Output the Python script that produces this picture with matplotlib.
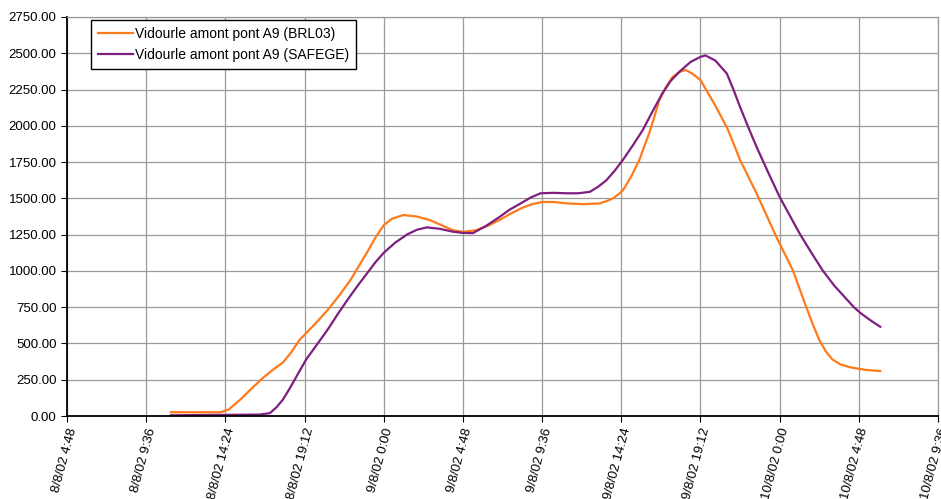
import pandas as pd
import matplotlib
matplotlib.use("Agg")
import matplotlib.pyplot as plt

plt.rcParams['font.family'] = ['Liberation Sans', 'DejaVu Sans']

# heures depuis le 8/8/02 4:48
brl_h = [6.3, 9.3, 9.8, 10.5, 11.2, 11.9, 12.5, 13.1, 13.6, 14.1, 15.0, 15.8,
         16.5, 17.2, 17.7, 18.2, 18.7, 19.2, 19.7, 20.4, 21.2, 22.0, 22.7, 23.4,
         24.0, 24.8, 25.5, 26.2, 26.9, 27.6, 28.2, 28.8, 29.5, 30.3, 31.3, 32.3,
         32.8, 33.1, 33.4, 33.7, 34.2, 34.7, 35.0, 35.3, 35.6, 35.9, 36.3, 36.7,
         37.1, 37.5, 37.9, 38.4, 39.2, 40.0, 40.4, 40.8, 41.3, 41.8, 42.4, 43.0,
         43.5, 44.0, 44.4, 44.8, 45.2, 45.6, 46.0, 46.4, 46.9, 47.5, 48.4, 49.3]
brl_q = [26, 26, 45, 113, 190, 265, 320, 370, 440, 525, 630, 730,
         830, 940, 1035, 1130, 1230, 1315, 1360, 1385, 1375, 1350, 1315, 1280,
         1270, 1280, 1310, 1350, 1395, 1435, 1460, 1475, 1475, 1465, 1460, 1465,
         1485, 1500, 1525, 1555, 1650, 1765, 1860, 1950, 2060, 2175, 2265, 2335,
         2370, 2385, 2360, 2315, 2160, 1990, 1880, 1765, 1650, 1535, 1385, 1235,
         1120, 1005, 880, 755, 635, 525, 445, 390, 355, 335, 318, 310]

safege_h = [6.3, 11.7, 12.3, 12.7, 13.1, 13.5, 13.9, 14.5, 15.2, 15.8, 16.4, 17.0,
            17.6, 18.2, 18.7, 19.2, 19.9, 20.6, 21.2, 21.8, 22.6, 23.4, 24.0, 24.6,
            25.4, 26.2, 26.8, 27.5, 28.1, 28.7, 29.5, 30.3, 31.0, 31.7, 32.2, 32.7,
            33.2, 33.7, 34.3, 34.9, 35.5, 36.1, 36.6, 37.2, 37.8, 38.4, 38.7, 39.3,
            40.0, 40.4, 40.8, 41.3, 41.8, 42.5, 43.2, 43.8, 44.4, 45.1, 45.8, 46.5,
            47.3, 47.7, 48.1, 48.7, 49.3]
safege_q = [5, 10, 20, 60, 115, 190, 270, 390, 500, 595, 700, 800,
            895, 985, 1060, 1125, 1195, 1250, 1283, 1300, 1290, 1270, 1262, 1260,
            1310, 1370, 1420, 1465, 1505, 1535, 1538, 1535, 1535, 1545, 1580, 1625,
            1690, 1765, 1865, 1970, 2100, 2225, 2310, 2380, 2440, 2475, 2485, 2450,
            2360, 2250, 2130, 1990, 1855, 1680, 1510, 1385, 1260, 1130, 1005, 900,
            800, 750, 710, 660, 615]

yticks = [0, 250, 500, 750, 1000, 1250, 1500, 1750, 2000, 2250, 2500, 2750]

t0 = pd.Timestamp('2002-08-08 04:48')
brl_t = t0 + pd.to_timedelta(brl_h, unit='h')
safege_t = t0 + pd.to_timedelta(safege_h, unit='h')
xticks = pd.date_range(t0, periods=12, freq='288min')
xlabels = [f"{d.day}/{d.month}/02 {d.hour}:{d.minute:02d}" for d in xticks]

fig = plt.figure(figsize=(9.41, 4.99), dpi=100)
ax = fig.add_axes([0.0712, 0.1663, 0.9256, 0.7997])

ax.plot(brl_t, brl_q, color='#FF7A1A', lw=1.6, label='Vidourle amont pont A9 (BRL03)')
ax.plot(safege_t, safege_q, color='#7E1F80', lw=1.6, label='Vidourle amont pont A9 (SAFEGE)')

ax.set_xlim(xticks[0], xticks[-1])
ax.set_ylim(0, 2750)
ax.set_xticks(xticks)
ax.set_xticklabels(xlabels, rotation=75, ha='right', rotation_mode='anchor', fontsize=9.5)
ax.set_yticks(yticks)
ax.set_yticklabels([f"{v:.2f}" for v in yticks], fontsize=9.5)
ax.tick_params(axis='both', length=4, color='black')

ax.grid(True, color='#9a9a9a', lw=0.9)
ax.set_axisbelow(True)
for s in ['top', 'right']:
    ax.spines[s].set_color('#9a9a9a')
    ax.spines[s].set_linewidth(0.9)
for s in ['left', 'bottom']:
    ax.spines[s].set_linewidth(1.3)

leg = ax.legend(loc='upper left', bbox_to_anchor=(0.028, 0.993), fontsize=10,
                frameon=True, fancybox=False, framealpha=1, handlelength=2.5,
                borderpad=0.5, labelspacing=0.5, handletextpad=0.15,
                borderaxespad=0)
leg.get_frame().set_edgecolor('black')
leg.get_frame().set_linewidth(1.0)

fig.savefig('out.png', dpi=100)
